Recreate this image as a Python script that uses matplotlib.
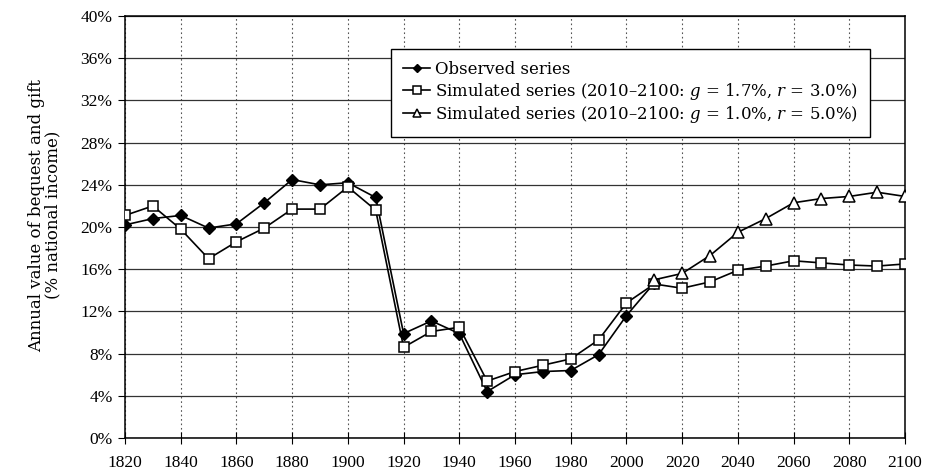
import matplotlib
matplotlib.use("Agg")
import matplotlib.pyplot as plt
import numpy as np

plt.rcParams['font.family'] = ['DejaVu Serif', 'Liberation Serif']
plt.rcParams['mathtext.fontset'] = 'custom'
plt.rcParams['mathtext.rm'] = 'DejaVu Serif'
plt.rcParams['mathtext.it'] = 'DejaVu Serif:italic'

# observed series 1820-2010
obs_years = list(range(1820, 2011, 10))
obs_vals = [20.2, 20.8, 21.1, 19.9, 20.3, 22.3, 24.5, 24.0, 24.2, 22.8,
            9.9, 11.1, 9.9, 4.4, 6.0, 6.3, 6.4, 7.9, 11.6, 14.7]

# simulated series g=1.7%, r=3.0% (1820-2100)
sim1_years = list(range(1820, 2101, 10))
sim1_vals = [21.1, 22.0, 19.8, 17.0, 18.6, 19.9, 21.7, 21.7, 23.8, 21.6,
             8.6, 10.1, 10.5, 5.4, 6.3, 6.9, 7.5, 9.3, 12.8, 14.6,
             14.2, 14.8, 15.9, 16.3, 16.8, 16.6, 16.4, 16.3, 16.5]

# simulated series g=1.0%, r=5.0% (2010-2100)
sim2_years = list(range(2010, 2101, 10))
sim2_vals = [15.0, 15.6, 17.3, 19.5, 20.8, 22.3, 22.7, 22.9, 23.3, 22.9]

labels = ['Observed series',
          'Simulated series (2010\u20132100: $g$ = 1.7%, $r$ = 3.0%)',
          'Simulated series (2010\u20132100: $g$ = 1.0%, $r$ = 5.0%)']

fig = plt.figure(figsize=(9.28, 4.72), dpi=100)
ax = fig.add_axes([0.1347, 0.072, 0.8405, 0.894])

ax.plot(obs_years, obs_vals, color='black', lw=1.2, marker='D', ms=5.8,
        mfc='black', mec='black', label=labels[0], zorder=4)
ax.plot(sim1_years, sim1_vals, color='black', lw=1.2, marker='s', ms=7.8,
        mfc='white', mec='black', mew=1.1, label=labels[1], zorder=5)
ax.plot(sim2_years, sim2_vals, color='black', lw=1.2, marker='^', ms=8.8,
        mfc='white', mec='black', mew=1.1, label=labels[2], zorder=6)

ax.set_xlim(1820, 2100)
ax.set_ylim(0, 40)
ax.set_xticks(np.arange(1820, 2101, 20))
ax.set_yticks(np.arange(0, 41, 4))
ax.set_yticklabels(['%d%%' % v for v in range(0, 41, 4)])
ax.tick_params(axis='x', direction='inout', length=8, labelsize=12.5, pad=8)
ax.tick_params(axis='y', direction='out', length=5, labelsize=12.5, pad=4)
for lab in ax.get_xticklabels() + ax.get_yticklabels():
    lab.set_family('Liberation Serif')

ax.yaxis.grid(True, color='#333333', lw=0.9, ls='-')
ax.xaxis.grid(True, color='#555555', lw=0.8, ls=(0, (1.5, 2.5)))
ax.set_axisbelow(True)
for s in ax.spines.values():
    s.set_color('black')
    s.set_linewidth(1.1)

ax.set_ylabel('Annual value of bequest and gift\n(% national income)',
              fontsize=12, linespacing=0.95)
ax.yaxis.set_label_coords(-0.081, 0.528)

leg = ax.legend(loc='upper left', bbox_to_anchor=(0.341, 0.922), fontsize=11.9,
                frameon=True, fancybox=False, edgecolor='black', framealpha=1,
                handlelength=1.65, handletextpad=0.3, labelspacing=0.16,
                borderpad=0.72, borderaxespad=0, markerscale=0.65)
leg.get_frame().set_linewidth(1.0)
leg.set_zorder(10)

fig.savefig('out.png', dpi=100)
